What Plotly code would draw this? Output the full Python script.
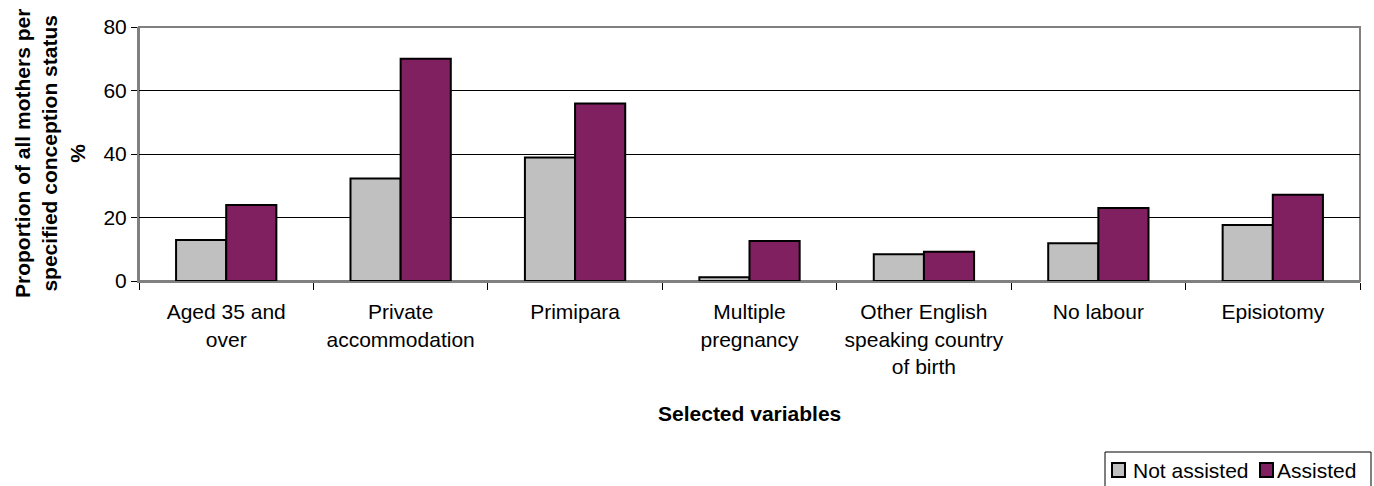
import plotly.graph_objects as go

categories = ["Aged 35 and<br>over", "Private<br>accommodation", "Primipara", "Multiple<br>pregnancy",
              "Other English<br>speaking country<br>of birth", "No labour", "Episiotomy"]
not_assisted = [12.9, 32.3, 38.9, 1.2, 8.4, 11.9, 17.6]
assisted = [23.9, 70.0, 55.9, 12.6, 9.2, 23.0, 27.2]
series_names = ["Not assisted", "Assisted"]
series_colors = ["#C0C0C0", "#802060"]

FONT = "Liberation Sans, Arial, sans-serif"
W, H = 1374, 486
L, R, T, B = 139, 14, 27, 205
PW, PH = W - L - R, H - T - B


def px_x(x):
    return (x - L) / PW


def px_y(y):
    return (H - B - y) / PH


fig = go.Figure()
for vals, name, col in zip([not_assisted, assisted], series_names, series_colors):
    fig.add_trace(go.Bar(x=categories, y=vals, name=name,
                         marker=dict(color=col, line=dict(color="black", width=2))))

fig.update_layout(
    width=W, height=H,
    margin=dict(l=L, r=R, t=T, b=B, autoexpand=False),
    plot_bgcolor="white", paper_bgcolor="white",
    font=dict(family=FONT, size=21, color="black"),
    barmode="group", bargap=0.425, bargroupgap=0,
    showlegend=False,
    xaxis=dict(
        automargin=False, tickangle=0,
        showline=True, linecolor="#808080", linewidth=2,
        ticks="outside", tickcolor="black", ticklen=7, tickson="boundaries",
        showgrid=False, tickfont=dict(size=21), ticklabelstandoff=11,
    ),
    yaxis=dict(
        automargin=False,
        range=[0, 80], dtick=20, showgrid=True, gridcolor="black", gridwidth=1,
        showline=True, linecolor="#808080", linewidth=2, ticks="outside", tickcolor="black",
        ticklen=6, zeroline=False, tickfont=dict(size=21),
    ),
)

annotations = [
    dict(text="<b>Selected variables</b>", xref="paper", yref="paper",
         x=0.5, y=px_y(413), xanchor="center", yanchor="middle",
         showarrow=False, font=dict(size=21)),
    dict(text="<b>Proportion of all mothers per<br>specified conception status<br>%</b>",
         xref="paper", yref="paper", x=px_x(50), y=px_y(153),
         xanchor="center", yanchor="middle", textangle=-90,
         showarrow=False, font=dict(size=21)),
]

shapes = [
    dict(type="rect", xref="paper", yref="paper", x0=0, x1=1, y0=0, y1=1,
         line=dict(color="#808080", width=2), layer="below"),
    # legend box
    dict(type="rect", xref="paper", yref="paper", x0=px_x(1105), x1=px_x(1371),
         y0=px_y(452), y1=px_y(500), line=dict(color="black", width=1),
         fillcolor="white", layer="above"),
]
# legend entries
sym_x = [1112, 1260]
txt_x = [1131, 1275]
for sx, tx, name, col in zip(sym_x, txt_x, series_names, series_colors):
    shapes.append(dict(type="rect", xref="paper", yref="paper",
                       x0=px_x(sx), x1=px_x(sx + 13), y0=px_y(463), y1=px_y(477),
                       line=dict(color="black", width=2), fillcolor=col, layer="above"))
    annotations.append(dict(text=name, xref="paper", yref="paper", x=px_x(tx), y=px_y(470),
                            xanchor="left", yanchor="middle", showarrow=False,
                            font=dict(size=21)))

fig.update_layout(shapes=shapes, annotations=annotations)
fig.write_html("out.html", config={"displayModeBar": False},
               post_script="document.body.style.margin='0';document.body.style.overflow='hidden';")
